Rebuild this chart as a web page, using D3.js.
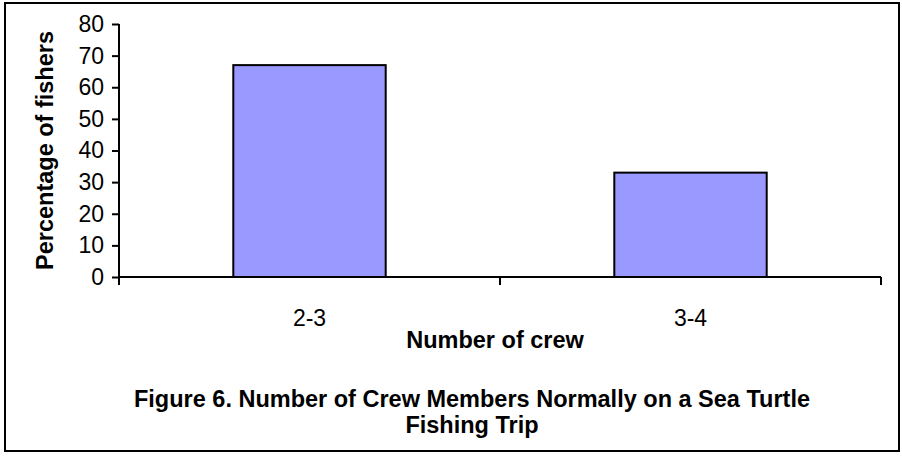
<!DOCTYPE html>
<html>
<head>
<meta charset="utf-8">
<script src="https://cdn.jsdelivr.net/npm/d3@7"></script>
<style>
  html, body { margin: 0; padding: 0; background: #fff; }
  svg { display: block; font-family: "Liberation Sans", Arial, sans-serif; }
</style>
</head>
<body>
<svg id="chart" width="902" height="456"></svg>
<script>
// Crew size categories and share of fishers (%)
const categories = ["2-3", "3-4"];
const percentages = [67, 33];
const yTicks = [0, 10, 20, 30, 40, 50, 60, 70, 80];
const titleLines = ["Figure 6. Number of Crew Members Normally on a Sea Turtle", "Fishing Trip"];
const xTitle = "Number of crew";
const yTitle = "Percentage of fishers";

const svg = d3.select("#chart");
const plot = { left: 119, right: 881, top: 24, bottom: 277 };
const tickFont = 23, boldFont = 23.5;

// Outer frame
svg.append("rect")
  .attr("x", 5).attr("y", 3)
  .attr("width", 894).attr("height", 448)
  .attr("fill", "#fff").attr("stroke", "#000").attr("stroke-width", 2);

const x = d3.scaleBand().domain(categories).range([plot.left, plot.right]).padding(0);
const y = d3.scaleLinear().domain([0, 80]).range([plot.bottom, plot.top]);

// Bars: 40% of each category slot, centred
const barW = x.bandwidth() * 0.4;
svg.append("g").selectAll("rect")
  .data(categories.map((c, i) => ({ c, v: percentages[i] })))
  .join("rect")
  .attr("x", d => x(d.c) + (x.bandwidth() - barW) / 2)
  .attr("y", d => y(d.v))
  .attr("width", barW)
  .attr("height", d => y(0) - y(d.v))
  .attr("fill", "#9999ff")
  .attr("stroke", "#000")
  .attr("stroke-width", 2);

// Y axis
const yAxis = svg.append("g")
  .attr("transform", `translate(${plot.left},0)`)
  .call(d3.axisLeft(y).tickValues(yTicks).tickSize(7).tickPadding(8));
yAxis.select(".domain").attr("stroke", "#000").attr("stroke-width", 2)
  .attr("d", `M0,${plot.top}V${plot.bottom + 8}`);
yAxis.selectAll(".tick line").attr("stroke", "#000").attr("stroke-width", 2);
yAxis.selectAll(".tick text")
  .attr("font-size", tickFont).attr("fill", "#000")
  .attr("font-family", "'Liberation Sans', Arial, sans-serif");

// X axis: boundary ticks between categories
const xAxis = svg.append("g")
  .attr("transform", `translate(0,${plot.bottom})`);
xAxis.append("line")
  .attr("x1", plot.left).attr("x2", plot.right)
  .attr("stroke", "#000").attr("stroke-width", 2);
const boundaries = [plot.left].concat(categories.map(c => x(c) + x.bandwidth()));
xAxis.selectAll("line.tk").data(boundaries).join("line")
  .attr("class", "tk")
  .attr("x1", d => d).attr("x2", d => d)
  .attr("y1", 0).attr("y2", 8)
  .attr("stroke", "#000").attr("stroke-width", 2);
xAxis.selectAll("text").data(categories).join("text")
  .attr("x", d => x(d) + x.bandwidth() / 2)
  .attr("y", 49)
  .attr("text-anchor", "middle")
  .attr("font-size", tickFont)
  .text(d => d);

// Axis titles
svg.append("text")
  .attr("x", 495).attr("y", 348)
  .attr("text-anchor", "middle")
  .attr("font-size", boldFont).attr("font-weight", "bold")
  .text(xTitle);

svg.append("text")
  .attr("transform", `translate(53,${(plot.top + plot.bottom) / 2}) rotate(-90)`)
  .attr("text-anchor", "middle")
  .attr("font-size", boldFont).attr("font-weight", "bold")
  .text(yTitle);

// Figure caption
svg.append("g").selectAll("text").data(titleLines).join("text")
  .attr("x", 472)
  .attr("y", (d, i) => 407 + i * 26)
  .attr("text-anchor", "middle")
  .attr("font-size", boldFont).attr("font-weight", "bold")
  .text(d => d);
</script>
</body>
</html>
